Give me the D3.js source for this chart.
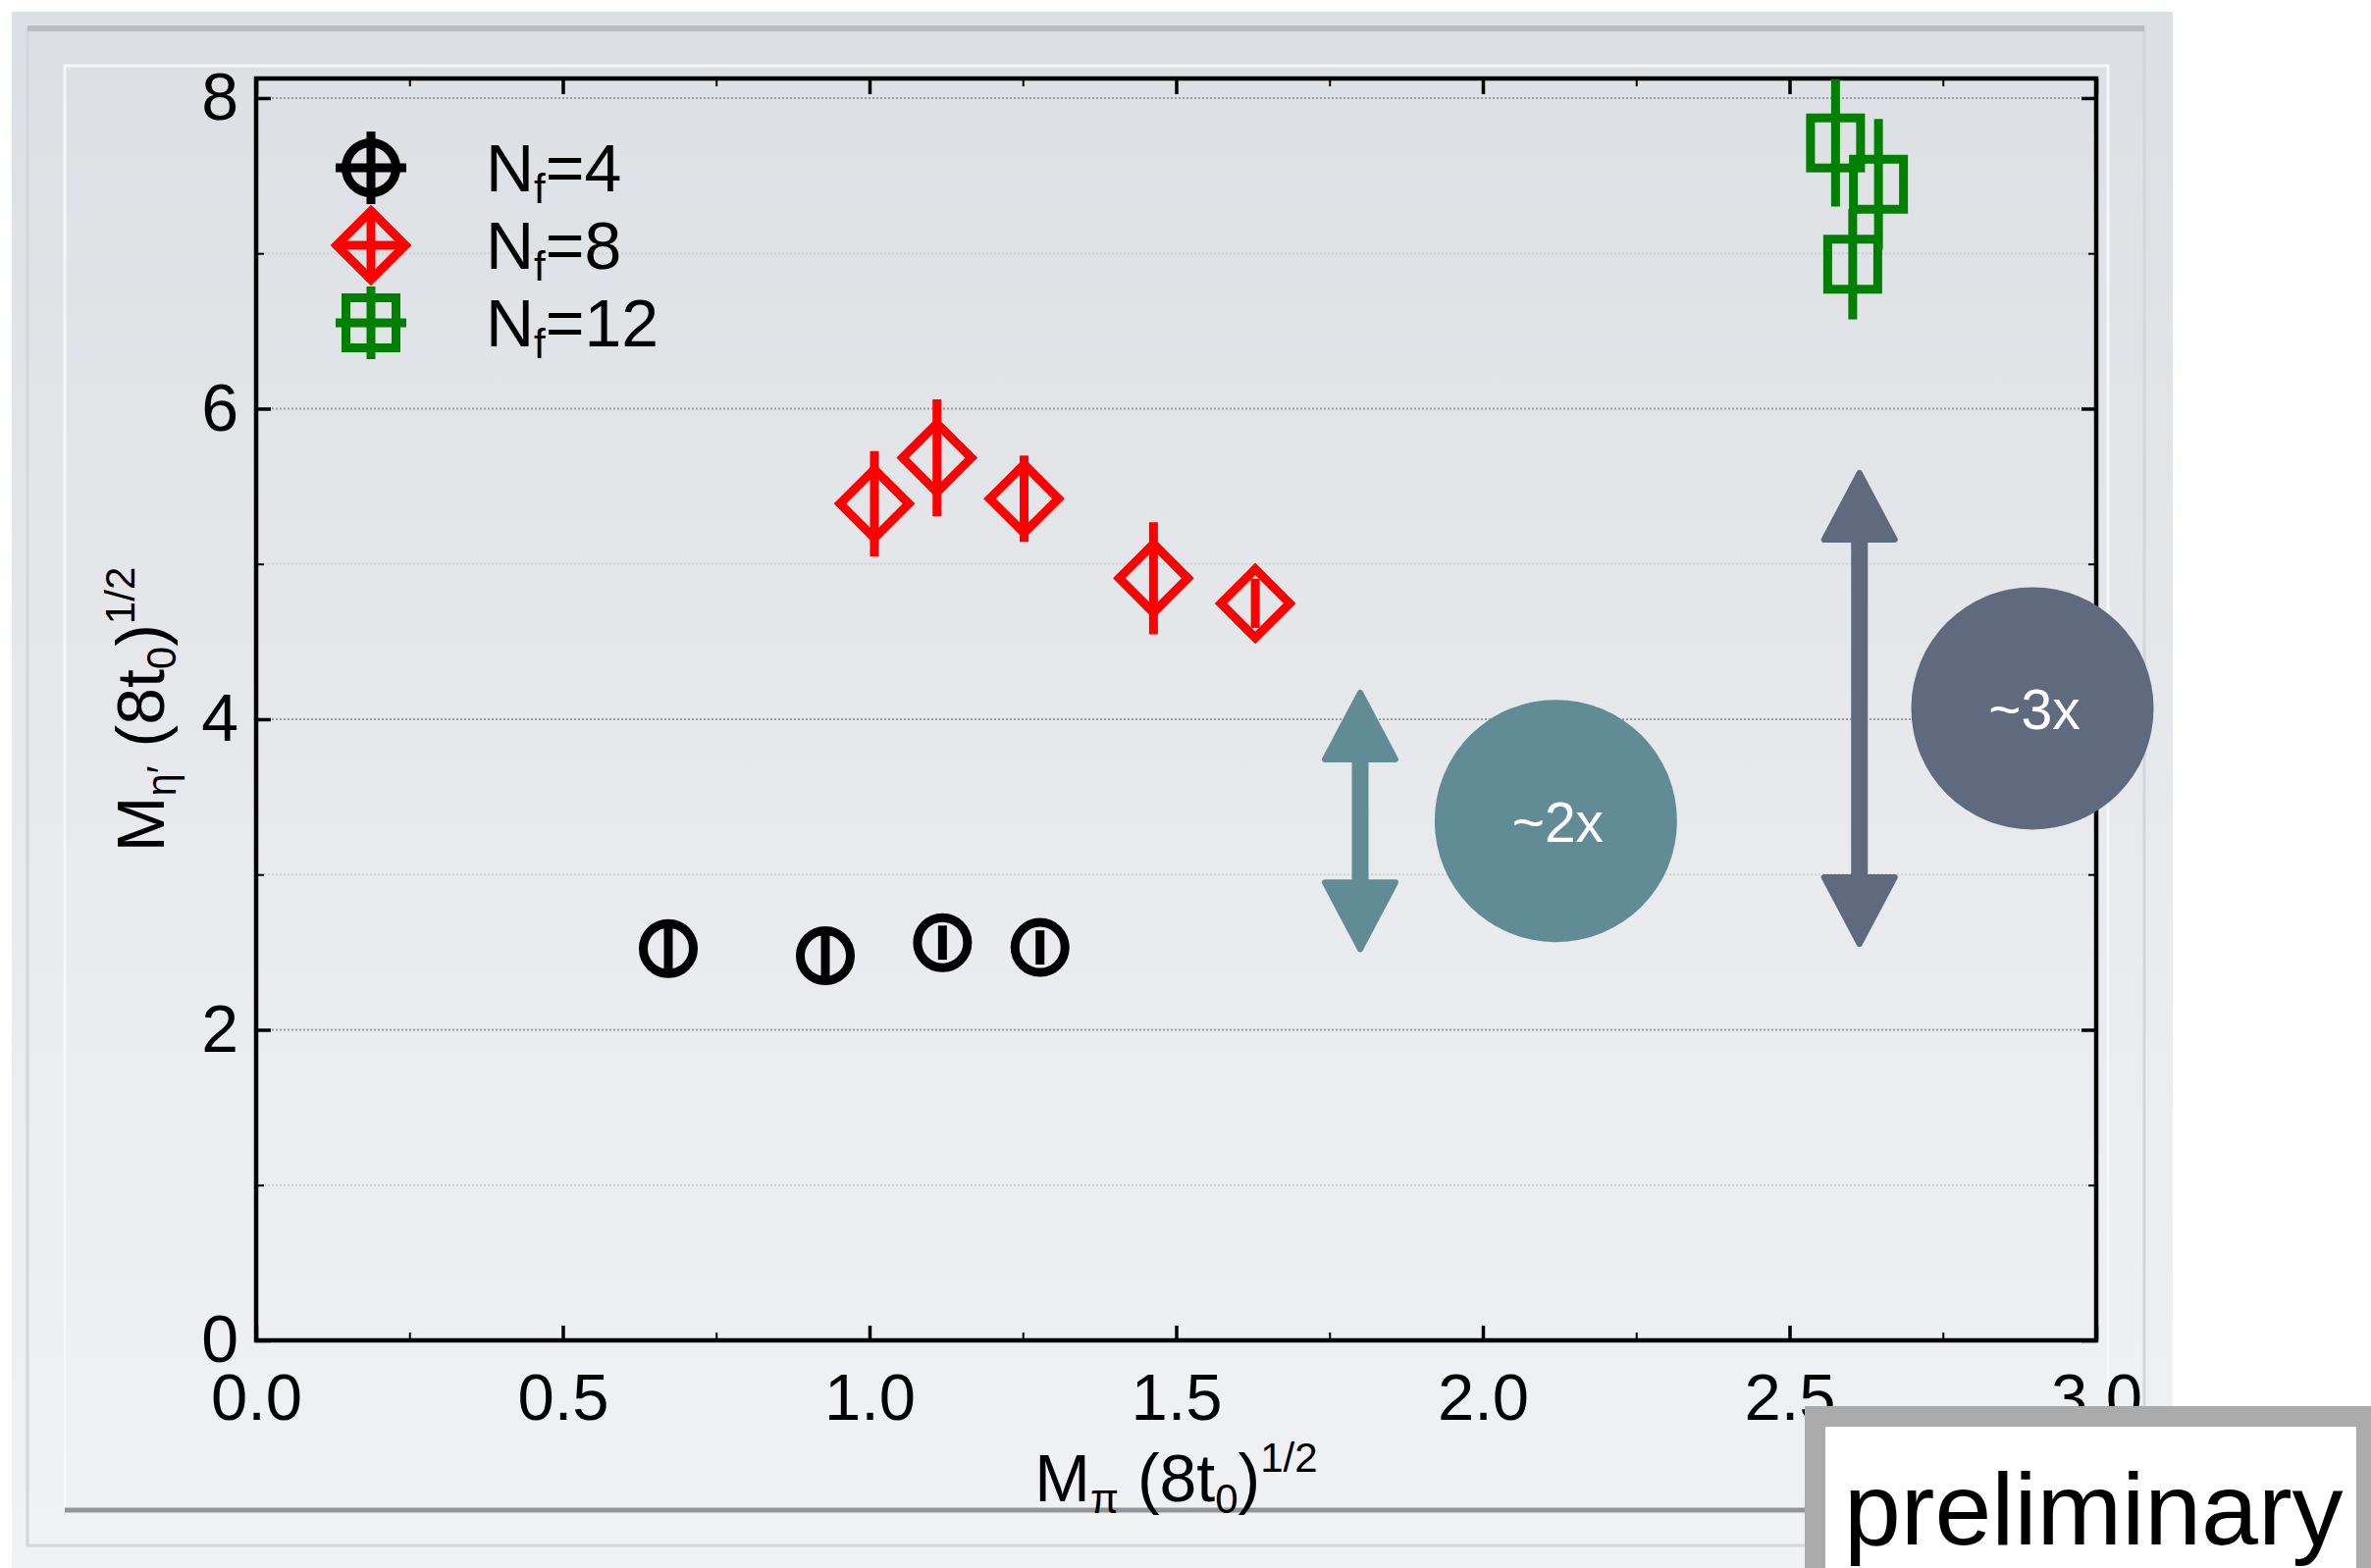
<!DOCTYPE html>
<html>
<head>
<meta charset="utf-8">
<script src="https://cdn.jsdelivr.net/npm/d3@7"></script>
<style>
html, body { margin: 0; padding: 0; background: #fff; }
svg { display: block; }
text { font-family: "Liberation Sans", Arial, Helvetica, sans-serif; }
</style>
</head>
<body>
<div id="container"></div>
<script>
"use strict";

// N_f = 4 (black circles)
const nf4X = [0.672, 0.928, 1.119, 1.278];
const nf4Y = [2.523, 2.477, 2.561, 2.530];
const nf4Err = [0.16, 0.16, 0.11, 0.11];

// N_f = 8 (red diamonds)
const nf8X = [1.008, 1.110, 1.252, 1.463, 1.629];
const nf8Y = [5.388, 5.683, 5.420, 4.908, 4.746];
const nf8Err = [0.339, 0.376, 0.278, 0.361, 0.158];

// N_f = 12 (green squares)
const nf12X = [2.575, 2.645, 2.603];
const nf12Y = [7.711, 7.445, 6.930];
const nf12Err = [0.41, 0.42, 0.356];

// ticks
const xTicks = [0, 0.5, 1.0, 1.5, 2.0, 2.5, 3.0];
const xTickLabels = ["0.0", "0.5", "1.0", "1.5", "2.0", "2.5", "3.0"];
const xMinorTicks = [0.25, 0.75, 1.25, 1.75, 2.25, 2.75];
const yTicks = [0, 2, 4, 6, 8];
const yTickLabels = ["0", "2", "4", "6", "8"];
const yMinorTicks = [1, 3, 5, 7];
const gridLines = [1, 2, 3, 4, 5, 6, 7, 8];

const legendLabels = ["4", "8", "12"];

// annotation arrows + bubbles (data units)
const arrowX = [1.8, 2.614];
const arrowTop = [4.19, 5.605];
const arrowBottom = [2.50, 2.534];
const bubbleX = [2.119, 2.896];
const bubbleY = [3.345, 4.07];
const bubbleLabels = ["~2x", "~3x"];
const annotColors = ["#618c95", "#5f6a7e"];

const W = 2416, H = 1598;

const svg = d3.select("#container")
	.append("svg")
	.attr("width", W)
	.attr("height", H);

// slide background
const defs = svg.append("defs");
const grad = defs.append("linearGradient")
	.attr("id", "bg")
	.attr("x1", 0).attr("y1", 0).attr("x2", 0).attr("y2", 1);
grad.append("stop").attr("offset", "0%").attr("stop-color", "#dcdfe3");
grad.append("stop").attr("offset", "55%").attr("stop-color", "#e8eaed");
grad.append("stop").attr("offset", "100%").attr("stop-color", "#f1f2f4");

svg.append("rect").attr("width", W).attr("height", H).attr("fill", "#fff");
svg.append("rect")
	.attr("x", 12).attr("y", 12)
	.attr("width", 2202).attr("height", H - 12)
	.attr("fill", "url(#bg)");

// outer frame
svg.append("rect")
	.attr("x", 28).attr("y", 29)
	.attr("width", 2157).attr("height", 1546)
	.attr("fill", "none")
	.attr("stroke", "#d3d6da")
	.attr("stroke-width", 3);
svg.append("line")
	.attr("x1", 28).attr("x2", 2185)
	.attr("y1", 29).attr("y2", 29)
	.attr("stroke", "#b9bcc0")
	.attr("stroke-width", 6);

// inner frame
svg.append("rect")
	.attr("x", 66).attr("y", 67)
	.attr("width", 2082).attr("height", 1472)
	.attr("fill", "none")
	.attr("stroke", "#f6f7f8")
	.attr("stroke-width", 3);
svg.append("line")
	.attr("x1", 66).attr("x2", 2148)
	.attr("y1", 1539).attr("y2", 1539)
	.attr("stroke", "#929498")
	.attr("stroke-width", 5);

// scales
const x = d3.scaleLinear().domain([0, 3]).range([261, 2136]);
const y = d3.scaleLinear().domain([0, 8.126]).range([1366, 80]);

// grid lines
svg.append("g")
	.selectAll("line")
	.data(gridLines)
	.enter()
	.append("line")
	.attr("x1", x(0)).attr("x2", x(3))
	.attr("y1", (d) => y(d)).attr("y2", (d) => y(d))
	.attr("stroke", (d) => (d % 2 === 0 ? "#9a9a9a" : "#cfd1d4"))
	.attr("stroke-width", 2)
	.attr("stroke-dasharray", "2,2");

// axes
function styleAxis(g, w) {
	g.select(".domain").remove();
	g.selectAll(".tick line").attr("stroke", "#000").attr("stroke-width", w);
}

svg.append("g")
	.attr("transform", `translate(0,${y(0)})`)
	.call(d3.axisBottom(x).tickValues(xTicks)
		.tickFormat((d, i) => xTickLabels[i])
		.tickSize(-15).tickPadding(33))
	.call((g) => styleAxis(g, 3.5))
	.selectAll("text")
	.attr("font-size", 67)
	.attr("fill", "#000");

svg.append("g")
	.attr("transform", `translate(0,${y(0)})`)
	.call(d3.axisBottom(x).tickValues(xMinorTicks).tickFormat("").tickSize(-8))
	.call((g) => styleAxis(g, 2));

svg.append("g")
	.attr("transform", `translate(0,${y.range()[1]})`)
	.call(d3.axisTop(x).tickValues(xTicks).tickFormat("").tickSize(-16))
	.call((g) => styleAxis(g, 3.5));

svg.append("g")
	.attr("transform", `translate(0,${y.range()[1]})`)
	.call(d3.axisTop(x).tickValues(xMinorTicks).tickFormat("").tickSize(-8))
	.call((g) => styleAxis(g, 2));

svg.append("g")
	.attr("transform", `translate(${x(0)},0)`)
	.call(d3.axisLeft(y).tickValues(yTicks)
		.tickFormat((d, i) => yTickLabels[i])
		.tickSize(-15).tickPadding(18))
	.call((g) => styleAxis(g, 3.5))
	.selectAll("text")
	.attr("font-size", 68)
	.attr("fill", "#000");

svg.append("g")
	.attr("transform", `translate(${x(0)},0)`)
	.call(d3.axisLeft(y).tickValues(yMinorTicks).tickFormat("").tickSize(-8))
	.call((g) => styleAxis(g, 2));

svg.append("g")
	.attr("transform", `translate(${x(3)},0)`)
	.call(d3.axisRight(y).tickValues(yTicks).tickFormat("").tickSize(-15))
	.call((g) => styleAxis(g, 3.5));

svg.append("g")
	.attr("transform", `translate(${x(3)},0)`)
	.call(d3.axisRight(y).tickValues(yMinorTicks).tickFormat("").tickSize(-8))
	.call((g) => styleAxis(g, 2));

// plot frame
svg.append("rect")
	.attr("x", x(0)).attr("y", y.range()[1])
	.attr("width", x(3) - x(0))
	.attr("height", y(0) - y.range()[1])
	.attr("fill", "none")
	.attr("stroke", "#000")
	.attr("stroke-width", 4.5);

// axis titles
const xTitle = svg.append("text")
	.attr("x", (x(0) + x(3)) / 2)
	.attr("y", 1530)
	.attr("text-anchor", "middle")
	.attr("font-size", 68)
	.attr("fill", "#000");
xTitle.append("tspan").text("M");
xTitle.append("tspan").attr("font-size", 42).attr("dy", 12).text("π");
xTitle.append("tspan").attr("dy", -12).text(" (8t");
xTitle.append("tspan").attr("font-size", 42).attr("dy", 12).text("0");
xTitle.append("tspan").attr("dy", -12).text(")");
xTitle.append("tspan").attr("font-size", 42).attr("dy", -30).text("1/2");

const yTitle = svg.append("text")
	.attr("transform", `translate(167,${(y(0) + y.range()[1]) / 2}) rotate(-90)`)
	.attr("text-anchor", "middle")
	.attr("font-size", 68)
	.attr("fill", "#000");
yTitle.append("tspan").text("M");
yTitle.append("tspan").attr("font-size", 42).attr("dy", 12).text("η′");
yTitle.append("tspan").attr("dy", -12).text(" (8t");
yTitle.append("tspan").attr("font-size", 42).attr("dy", 12).text("0");
yTitle.append("tspan").attr("dy", -12).text(")");
yTitle.append("tspan").attr("font-size", 42).attr("dy", -30).text("1/2");

// markers
const SW = 9;
const circleR = 25.5;
const diamondR = 35;
const squareHalf = 25.5;

function diamondPath(r) {
	return `M0,${-r} L${r},0 L0,${r} L${-r},0 Z`;
}

function drawSeries(xs, ys, errs, color, shape) {
	const g = svg.append("g");
	const pts = xs.map((d, i) => ({ x: d, y: ys[i], e: errs[i] }));
	// error bars, clipped to plot top
	g.selectAll("line")
		.data(pts)
		.enter()
		.append("line")
		.attr("x1", (d) => x(d.x)).attr("x2", (d) => x(d.x))
		.attr("y1", (d) => Math.max(y(d.y + d.e), y.range()[1]))
		.attr("y2", (d) => y(d.y - d.e))
		.attr("stroke", color)
		.attr("stroke-width", SW);
	const m = g.selectAll(".m")
		.data(pts)
		.enter()
		.append("g")
		.attr("class", "m")
		.attr("transform", (d) => `translate(${x(d.x)},${y(d.y)})`);
	addShape(m, shape, color);
}

function addShape(sel, shape, color) {
	if (shape === "circle") {
		sel.append("circle").attr("r", circleR);
	} else if (shape === "diamond") {
		sel.append("path").attr("d", diamondPath(diamondR));
	} else {
		sel.append("rect")
			.attr("x", -squareHalf).attr("y", -squareHalf)
			.attr("width", 2 * squareHalf).attr("height", 2 * squareHalf);
	}
	sel.selectAll("circle,path,rect")
		.attr("fill", "none")
		.attr("stroke", color)
		.attr("stroke-width", SW)
		.attr("stroke-linejoin", "miter");
}

drawSeries(nf4X, nf4Y, nf4Err, "#000", "circle");
drawSeries(nf8X, nf8Y, nf8Err, "#ff0000", "diamond");
drawSeries(nf12X, nf12Y, nf12Err, "#008000", "square");

// legend
const legendColors = ["#000", "#ff0000", "#008000"];
const legendShapes = ["circle", "diamond", "square"];
const legend = svg.append("g").attr("transform", "translate(378,171)");
const rows = legend.selectAll(".row")
	.data(legendLabels)
	.enter()
	.append("g")
	.attr("class", "row")
	.attr("transform", (d, i) => `translate(0,${i * 79})`);
rows.each(function (d, i) {
	const r = d3.select(this);
	r.append("line").attr("x1", 0).attr("x2", 0).attr("y1", -37).attr("y2", 37)
		.attr("stroke", legendColors[i]).attr("stroke-width", SW);
	r.append("line").attr("x1", -36).attr("x2", 36).attr("y1", 0).attr("y2", 0)
		.attr("stroke", legendColors[i]).attr("stroke-width", SW);
	const s = r.append("g");
	addShape(s, legendShapes[i], legendColors[i]);
	const t = r.append("text")
		.attr("x", 117).attr("y", 24)
		.attr("font-size", 68)
		.attr("fill", "#000");
	t.append("tspan").text("N");
	t.append("tspan").attr("font-size", 42).attr("dy", 12).text("f");
	t.append("tspan").attr("dy", -12).text("=" + d);
});

// annotations: double arrows + bubbles
function arrowPath(cx, yt, yb) {
	const hw = 36, hl = 68, sw = 5.5;
	return `M${cx},${yt} L${cx + hw},${yt + hl} L${cx + sw},${yt + hl} ` +
		`L${cx + sw},${yb - hl} L${cx + hw},${yb - hl} L${cx},${yb} ` +
		`L${cx - hw},${yb - hl} L${cx - sw},${yb - hl} L${cx - sw},${yt + hl} ` +
		`L${cx - hw},${yt + hl} Z`;
}

const annot = svg.append("g");
arrowX.forEach((ax, i) => {
	annot.append("path")
		.attr("d", arrowPath(x(ax), y(arrowTop[i]) + 3, y(arrowBottom[i]) - 3))
		.attr("fill", annotColors[i])
		.attr("stroke", annotColors[i])
		.attr("stroke-width", 6)
		.attr("stroke-linejoin", "round");
	annot.append("circle")
		.attr("cx", x(bubbleX[i]))
		.attr("cy", y(bubbleY[i]))
		.attr("r", 123.5)
		.attr("fill", annotColors[i]);
	annot.append("text")
		.attr("x", x(bubbleX[i]) + 2)
		.attr("y", y(bubbleY[i]) + 21)
		.attr("text-anchor", "middle")
		.attr("font-family", "Lato, 'Open Sans', sans-serif")
		.attr("font-weight", 300)
		.attr("font-size", 57)
		.attr("fill", "#fff")
		.text(bubbleLabels[i]);
});

// "preliminary" stamp
svg.append("rect")
	.attr("x", 1849.5).attr("y", 1443.5)
	.attr("width", 562).attr("height", 200)
	.attr("fill", "#fff")
	.attr("stroke", "#ababab")
	.attr("stroke-width", 21);
svg.append("text")
	.attr("x", 1879).attr("y", 1574)
	.attr("font-size", 104)
	.attr("fill", "#000")
	.text("preliminary");
</script>
</body>
</html>
